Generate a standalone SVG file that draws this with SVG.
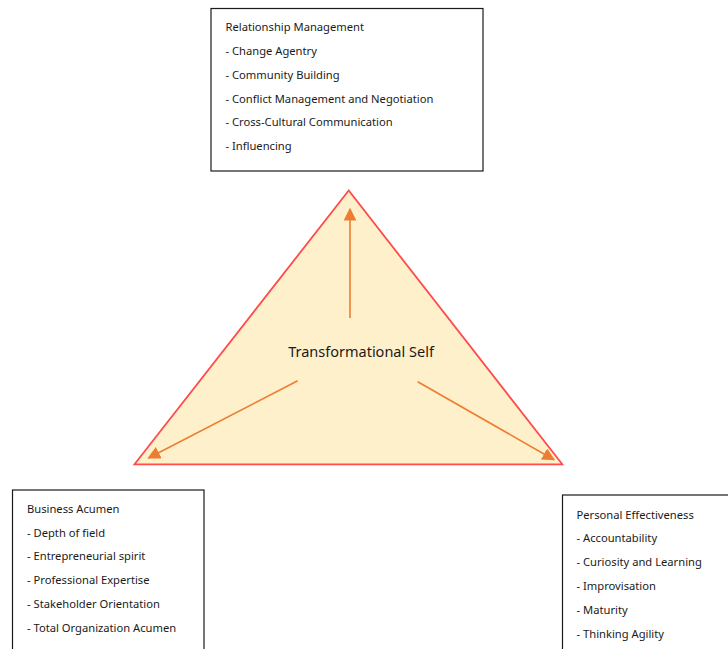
<svg xmlns="http://www.w3.org/2000/svg" width="728" height="649" viewBox="0 0 728 649">
  <style>
    .box { fill: #ffffff; stroke: #1a1a1a; stroke-width: 1.2; }
    .item { font-family: "Noto Sans", "DejaVu Sans", sans-serif; font-size: 11.2px; fill: #1a1a1a; }
    .title { font-family: "Noto Sans", "DejaVu Sans", sans-serif; font-size: 14.5px; fill: #1a1a1a; }
    .conn { stroke: #ed7d31; stroke-width: 1.6; fill: none; marker-end: url(#arrow); }
  </style>
  <defs>
    <marker id="arrow" viewBox="0 0 10 10" refX="9" refY="5" markerWidth="8" markerHeight="8" orient="auto" markerUnits="strokeWidth">
      <path d="M0,0 L10,5 L0,10 Z" fill="#ed7d31"/>
    </marker>
  </defs>
  <rect width="728" height="649" fill="#ffffff"/>

  <g id="transformational-self">
    <polygon points="348.7,190.5 134.5,464.3 562.3,464.3" fill="#fff0cc" stroke="#ff4b4b" stroke-width="1.8" stroke-linejoin="miter"/>
    <text class="title" x="361" y="356.5" text-anchor="middle">Transformational Self</text>
  </g>

  <g id="connectors">
    <line class="conn" x1="350" y1="318" x2="350" y2="209"/>
    <line class="conn" x1="297.7" y1="380.7" x2="148.5" y2="458"/>
    <line class="conn" x1="417.7" y1="381.7" x2="554" y2="459.7"/>
  </g>

  <g id="relationship-management">
    <rect class="box" x="211" y="8.5" width="272" height="162.5"/>
    <text class="item" x="225.5" y="31">Relationship Management</text>
    <text class="item" x="225.5" y="55">- Change Agentry</text>
    <text class="item" x="225.5" y="78.5">- Community Building</text>
    <text class="item" x="225.5" y="102.5">- Conflict Management and Negotiation</text>
    <text class="item" x="225.5" y="126">- Cross-Cultural Communication</text>
    <text class="item" x="225.5" y="150">- Influencing</text>
  </g>

  <g id="business-acumen">
    <rect class="box" x="12.5" y="490" width="191.5" height="170"/>
    <text class="item" x="27" y="513">Business Acumen</text>
    <text class="item" x="27" y="536.5">- Depth of field</text>
    <text class="item" x="27" y="560">- Entrepreneurial spirit</text>
    <text class="item" x="27" y="584">- Professional Expertise</text>
    <text class="item" x="27" y="608">- Stakeholder Orientation</text>
    <text class="item" x="27" y="632">- Total Organization Acumen</text>
  </g>

  <g id="personal-effectiveness">
    <rect class="box" x="562.5" y="495" width="180" height="170"/>
    <text class="item" x="576.5" y="518.5">Personal Effectiveness</text>
    <text class="item" x="576.5" y="542">- Accountability</text>
    <text class="item" x="576.5" y="566">- Curiosity and Learning</text>
    <text class="item" x="576.5" y="590">- Improvisation</text>
    <text class="item" x="576.5" y="613.5">- Maturity</text>
    <text class="item" x="576.5" y="637.5">- Thinking Agility</text>
  </g>
</svg>
